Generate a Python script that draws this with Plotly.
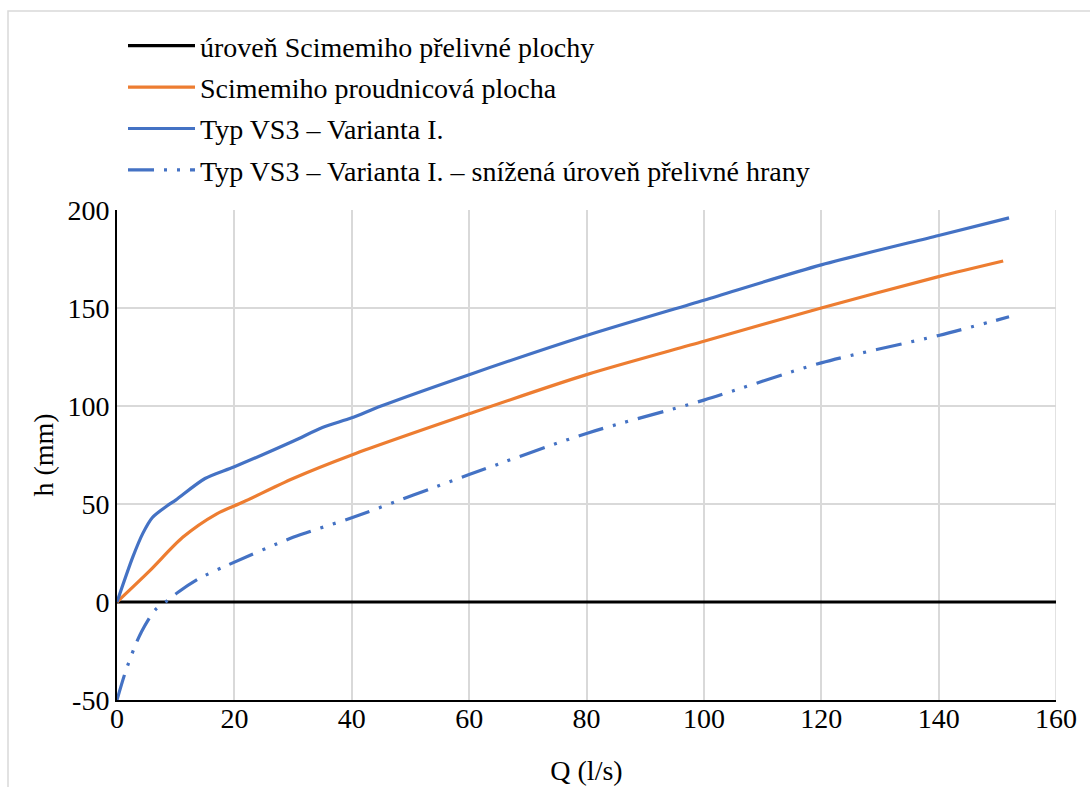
import plotly.graph_objects as go

# Discharge Q (l/s) and head h (mm) for each rating curve
q_level = [0, 160]
h_level = [0, 0]

q_scimemi = [0, 5.6, 11.2, 17, 21.5, 30, 40, 60, 80, 100, 120, 140, 151]
h_scimemi = [0, 16, 33, 45, 51, 63, 75, 96, 116, 133, 150, 166, 174]

q_vs3 = [0, 2.7, 4.4, 6, 8.5, 10, 15, 20, 30, 35, 40, 45, 60, 80, 100, 120, 140, 152]
h_vs3 = [0, 23, 35, 43, 49, 52, 63, 69, 82, 89, 94, 100, 116, 136, 154, 172, 187, 196]

q_vs3_low = [0, 1.4, 3, 4.2, 6.5, 8.5, 10.4, 14, 19, 30, 40, 60, 80, 100, 120, 140, 152]
h_vs3_low = [-50, -36, -23, -15, -4, 0.5, 5, 12, 19, 33, 43, 65, 86, 103, 122, 136, 145.5]

x_ticks = [0, 20, 40, 60, 80, 100, 120, 140, 160]
y_ticks = [-50, 0, 50, 100, 150, 200]
y_tick_text = ["-50", "0", "50", "100", "150", "200"]

BLUE = "#4472C4"
ORANGE = "#ED7D31"
FONT = "Times New Roman, Liberation Serif, DejaVu Serif, serif"

W, H = 1090, 787
L, R, T, B = 117, 34, 210, 87
pw, ph = W - L - R, H - T - B

fig = go.Figure()
fig.add_trace(go.Scatter(x=q_level, y=h_level, mode="lines",
                         name="úroveň Scimemiho přelivné plochy", legendgroup="a",
                         line=dict(color="black", width=3.2)))
fig.add_trace(go.Scatter(x=q_scimemi, y=h_scimemi, mode="lines",
                         name="Scimemiho proudnicová plocha", legendgroup="b",
                         line=dict(color=ORANGE, width=3.2, shape="spline", smoothing=0.8)))
fig.add_trace(go.Scatter(x=q_vs3, y=h_vs3, mode="lines",
                         name="Typ VS3 – Varianta I.", legendgroup="c",
                         line=dict(color=BLUE, width=3.2, shape="spline", smoothing=0.8)))
fig.add_trace(go.Scatter(x=q_vs3_low, y=h_vs3_low, mode="lines",
                         name="Typ VS3 – Varianta I. – snížená úroveň přelivné hrany", legendgroup="d",
                         line=dict(color=BLUE, width=3.2, shape="spline", smoothing=0.8,
                                   dash="26px,10px,3px,10px,3px,10px")))

# light frame around the whole chart
fig.add_shape(type="rect", xref="paper", yref="paper",
              x0=(8 - L) / pw, x1=(W + 5 - L) / pw,
              y0=-(B + 5) / ph, y1=(H - B - 11) / ph,
              line=dict(color="#d9d9d9", width=1.5), layer="below")

fig.update_layout(
    width=W, height=H,
    margin=dict(l=L, r=R, t=T, b=B),
    paper_bgcolor="white", plot_bgcolor="white",
    font=dict(family=FONT, size=28, color="black"),
    showlegend=True,
    legend=dict(x=6 / pw, y=(H - B - 21) / ph, xanchor="left", yanchor="top",
                bgcolor="rgba(0,0,0,0)", itemwidth=67, tracegroupgap=2,
                font=dict(family=FONT, size=28, color="black")),
    xaxis=dict(range=[0, 160], tickvals=x_ticks, showgrid=True, gridcolor="#d9d9d9",
               gridwidth=1.5, zeroline=False, showline=True, linecolor="black",
               linewidth=2, ticks="", mirror=False, ticklabelstandoff=-8,
               automargin=False,
               title=dict(text="Q (l/s)", standoff=28, font=dict(family=FONT, size=28))),
    yaxis=dict(range=[-50, 200], tickvals=y_ticks, ticktext=y_tick_text, showgrid=True,
               gridcolor="#d9d9d9", gridwidth=1.5, zeroline=False, showline=True,
               linecolor="black", linewidth=2, ticks="", automargin=False,
               title=dict(text="h (mm)", standoff=6, font=dict(family=FONT, size=28))),
)
# gridline at the right end of the Q range
fig.add_shape(type="line", xref="x", yref="y", x0=160, x1=160, y0=-50, y1=200,
              line=dict(color="#d9d9d9", width=1.5), layer="below")

fig.write_html("out.html")
